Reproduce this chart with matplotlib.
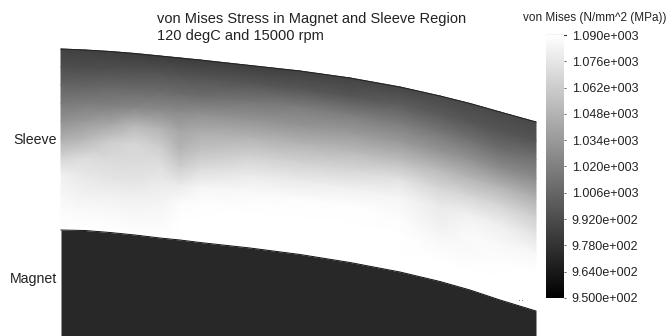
import numpy as np
import matplotlib
matplotlib.use('Agg')
import matplotlib.pyplot as plt

plt.rcParams['font.family'] = ['Liberation Sans', 'DejaVu Sans']

# Stations along the sleeve, pixel coordinates of the picture
station_x = [61, 85, 110, 135, 160, 180, 200, 250, 300, 350, 400, 440, 470, 500, 536]
sleeve_top = [49, 50, 51.5, 53.5, 56, 58, 60, 65.5, 71, 78, 87, 96, 103.5, 112, 122]
sleeve_bottom = [230, 230.5, 232.5, 235, 238, 240, 242.5, 248, 254.5, 262.5, 272, 281.5, 290, 300, 311]

# Depth through the sleeve, 0 = outer edge, 1 = magnet edge
depth = [0, .1, .2, .3, .4, .5, .6, .7, .8, .9, 1]

# von Mises stress (MPa), one row per depth, one column per station
stress = [
    [986, 985, 984, 983, 983, 983, 983, 984, 986, 987, 988, 990, 990, 990, 990],
    [993, 993, 994, 995, 997, 997, 997, 998, 998, 998, 1002, 1000, 998, 997, 997],
    [1005, 1005, 1008, 1008, 1010, 1010, 1010, 1016, 1019, 1019, 1019, 1016, 1013, 1010, 1013],
    [1017, 1019, 1020, 1024, 1027, 1027, 1030, 1032, 1032, 1035, 1035, 1032, 1030, 1027, 1027],
    [1030, 1035, 1041, 1052, 1049, 1041, 1046, 1049, 1049, 1052, 1054, 1052, 1049, 1049, 1046],
    [1046, 1052, 1063, 1068, 1063, 1049, 1057, 1065, 1065, 1068, 1074, 1068, 1068, 1068, 1063],
    [1066, 1071, 1070, 1070, 1072, 1063, 1071, 1079, 1079, 1082, 1085, 1079, 1082, 1081, 1075],
    [1082, 1077, 1075, 1075, 1079, 1079, 1085, 1087, 1088, 1090, 1088, 1082, 1087, 1086, 1086],
    [1085, 1082, 1082, 1082, 1083, 1088, 1089, 1090, 1090, 1090, 1090, 1087, 1087, 1089, 1090],
    [1088, 1087, 1087, 1086, 1087, 1090, 1090, 1090, 1090, 1090, 1090, 1090, 1090, 1090, 1090],
    [1090, 1090, 1090, 1090, 1090, 1090, 1090, 1090, 1090, 1090, 1090, 1090, 1090, 1090, 1090],
]
magnet_stress = 972

bar_ticks = [950, 964, 978, 992, 1006, 1020, 1034, 1048, 1062, 1076, 1090]
bar_labels = ['9.500e+002', '9.640e+002', '9.780e+002', '9.920e+002', '1.006e+003', '1.020e+003',
              '1.034e+003', '1.048e+003', '1.062e+003', '1.076e+003', '1.090e+003']

speck_x = [519, 522]
speck_y = [300, 300]

fig = plt.figure(figsize=(6.69, 3.36), dpi=100)
ax = fig.add_axes([0, 0, 1, 1])
ax.set_xlim(0, 669)
ax.set_ylim(336, 0)
ax.axis('off')

# Sleeve mesh, edges blended by depth
x = np.array(station_x, dtype=float)
top = np.array(sleeve_top, dtype=float)
bottom = np.array(sleeve_bottom, dtype=float)
d = np.array(depth)
X = np.tile(x, (len(d), 1))
Y = np.outer(1 - d, top) + np.outer(d, bottom)
mesh = ax.pcolormesh(X, Y, np.array(stress), shading='gouraud', cmap='gray', vmin=950, vmax=1090)

# Magnet is a single flat value
magnet_color = plt.cm.gray((magnet_stress - 950) / 140)
ax.fill_between(x, bottom, 336, color=magnet_color, lw=0)

ax.plot(x, top, color='#222222', lw=0.7)
ax.plot(x, bottom, color='#111111', lw=0.7)
ax.scatter(speck_x, speck_y, s=0.4, color='#777777', lw=0)

ax.text(157, 19, 'von Mises Stress in Magnet and Sleeve Region', fontsize=10.5, color='#222222', va='center')
ax.text(157, 36, '120 degC and 15000 rpm', fontsize=10.5, color='#222222', va='center')
ax.text(57, 140, 'Sleeve', fontsize=10.2, color='#222222', ha='right', va='center')
ax.text(57, 279, 'Magnet', fontsize=10.2, color='#222222', ha='right', va='center')
ax.text(595, 18, 'von Mises (N/mm^2 (MPa))', fontsize=8.5, color='#222222', ha='center', va='center')

# Colour bar
cax = fig.add_axes([546 / 669, (336 - 298) / 336, 18 / 669, 263 / 336])
cbar = fig.colorbar(mesh, cax=cax, ticks=bar_ticks)
cbar.outline.set_visible(False)
cbar.ax.set_yticklabels(bar_labels)
cbar.ax.tick_params(length=1.5, width=0.6, pad=4, labelsize=9, labelcolor='#222222', color='#444444')
ax.plot([546, 566], [35, 35], color='#222222', lw=0.8)

fig.savefig('out.png', dpi=100)
